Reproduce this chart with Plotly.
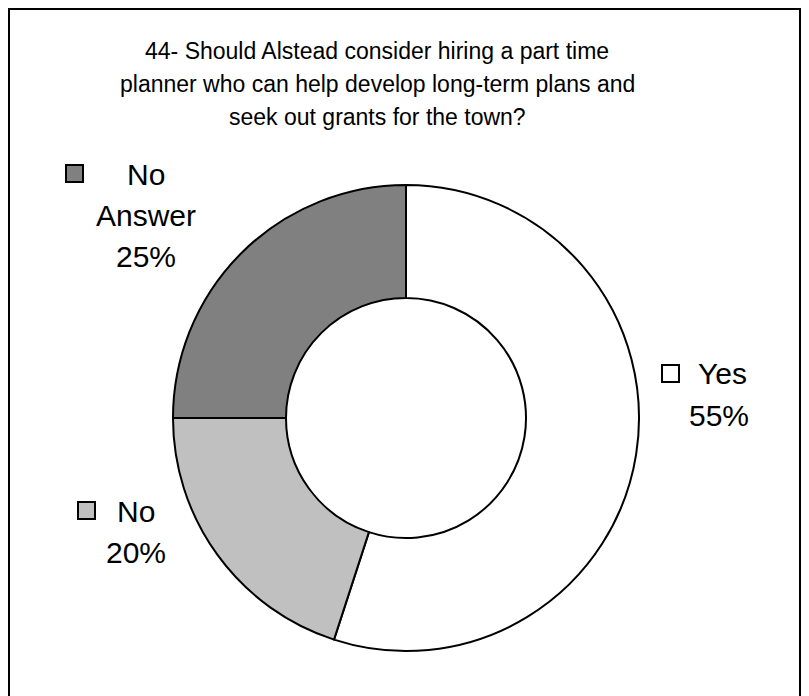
import plotly.graph_objects as go

# ---- data ----
categories = ["Yes", "No", "No Answer"]
values = [55, 20, 25]
colors = ["#FFFFFF", "#C0C0C0", "#808080"]
title_lines = [
    "44- Should Alstead consider hiring a part time",
    "planner who can help develop long-term plans and",
    "seek out grants for the town?",
]

# the page body has an 8px margin; the figure is sized to fill the rest
OFF = 8
W, H = 809 - OFF, 696 - OFF


def px(x):
    return (x - OFF) / W


def py(y):
    return 1 - (y - OFF) / H


FONT = "Liberation Sans, Arial, sans-serif"

fig = go.Figure()
fig.add_trace(go.Pie(
    labels=categories,
    values=values,
    sort=False,
    direction="clockwise",
    rotation=0,
    hole=0.515,
    marker=dict(colors=colors, line=dict(color="black", width=2)),
    textinfo="none",
    hoverinfo="label+percent",
    showlegend=False,
    domain=dict(x=[px(173), px(639)], y=[py(651), py(185)]),
))

annotations = []
# title
for i, line in enumerate(title_lines):
    annotations.append(dict(
        text=line, x=px(377), y=py(51 + 33 * i), xref="paper", yref="paper",
        xanchor="center", yanchor="middle", showarrow=False,
        font=dict(family=FONT, size=23, color="black"),
    ))

total = sum(values)
pct = {c: f"{round(v * 100 / total)}%" for c, v in zip(categories, values)}

# label blocks: (lines, center x, first-line center y)
label_specs = [
    (["No", "Answer", pct["No Answer"]], 146, 174),
    (["Yes", pct["Yes"]], 719, 374),
    (["No", pct["No"]], 136, 511),
]
for lines, cx, cy in label_specs:
    for j, t in enumerate(lines):
        x = cx
        if j == 0 and t == "Yes":
            x = 722
        annotations.append(dict(
            text=t, x=px(x), y=py(cy + 41.5 * j), xref="paper", yref="paper",
            xanchor="center", yanchor="middle", showarrow=False,
            font=dict(family=FONT, size=30, color="black"),
        ))

# legend key squares next to each label
key_boxes = {
    "No Answer": (66, 165, 83, 182),
    "Yes": (662, 365, 679, 382),
    "No": (78, 502, 95, 519),
}
shapes = []
for c, col in zip(categories, colors):
    x0, y0, x1, y1 = key_boxes[c]
    shapes.append(dict(type="rect", xref="paper", yref="paper",
                       x0=px(x0), x1=px(x1), y0=py(y1), y1=py(y0),
                       fillcolor=col, line=dict(color="black", width=2)))

# chart frame
shapes.append(dict(type="rect", xref="paper", yref="paper",
                   x0=px(9), x1=px(800), y0=py(705), y1=py(9),
                   fillcolor="rgba(0,0,0,0)", line=dict(color="black", width=2)))

fig.update_layout(
    width=W, height=H,
    margin=dict(l=0, r=0, t=0, b=0),
    paper_bgcolor="white", plot_bgcolor="white",
    annotations=annotations,
    shapes=shapes,
    showlegend=False,
)

fig.write_html("out.html")
